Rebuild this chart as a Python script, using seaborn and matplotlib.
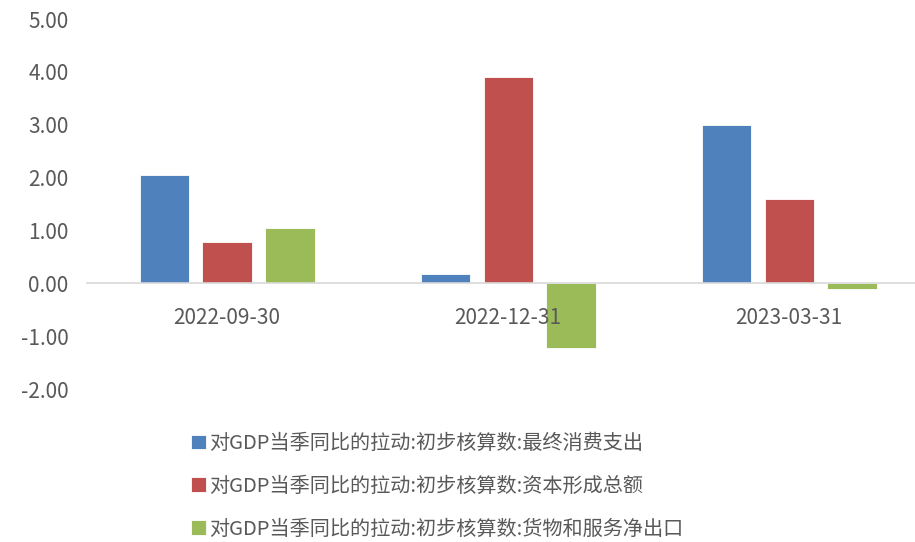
import matplotlib
matplotlib.use("Agg")
import matplotlib.pyplot as plt
import seaborn as sns
import pandas as pd

dates = ["2022-09-30", "2022-12-31", "2023-03-31"]
series_names = [
    "对GDP当季同比的拉动:初步核算数:最终消费支出",
    "对GDP当季同比的拉动:初步核算数:资本形成总额",
    "对GDP当季同比的拉动:初步核算数:货物和服务净出口",
]
consumption = [2.05, 0.18, 2.99]
capital = [0.78, 3.91, 1.59]
net_export = [1.04, -1.22, -0.11]
y_ticks = [-2, -1, 0, 1, 2, 3, 4, 5]
colors = ["#4F81BD", "#C0504D", "#9BBB59"]

sns.set_theme(style="white")
plt.rcParams["font.family"] = ["Noto Sans CJK SC", "DejaVu Sans"]

rows = []
for name, vals in zip(series_names, [consumption, capital, net_export]):
    for d, v in zip(dates, vals):
        rows.append({"date": d, "series": name, "value": v})
df = pd.DataFrame(rows)

fig = plt.figure(figsize=(9.15, 5.42), dpi=100)
ax = fig.add_axes([86.5 / 915, 1 - 389 / 542, 1 - 86.5 / 915, (389 - 19) / 542])

sns.barplot(data=df, x="date", y="value", hue="series", order=dates,
            hue_order=series_names, palette=colors, saturation=1,
            width=0.672, gap=0.22,
            edgecolor="white", linewidth=0.6, ax=ax, legend=True)

ax.set_ylim(-2, 5)
ax.set_xlim(-0.5, 2.448)
ax.set_yticks(y_ticks)
ax.set_yticklabels([f"{t:.2f}" for t in y_ticks])
ax.set_xlabel("")
ax.set_ylabel("")
for s in ["top", "right", "left"]:
    ax.spines[s].set_visible(False)
ax.spines["bottom"].set_position(("data", 0))
ax.spines["bottom"].set_color("#D9D9D9")
ax.spines["bottom"].set_linewidth(1.2)
ax.xaxis.set_zorder(10)
ax.tick_params(axis="x", length=0, pad=17, labelsize=15, labelcolor="#595959")
ax.tick_params(axis="y", length=0, pad=13, labelsize=15, labelcolor="#595959")

handles, labels = ax.get_legend_handles_labels()
ax.get_legend().remove()
leg = fig.legend(handles, labels, loc="upper left", bbox_to_anchor=(191 / 915, 1 - 433 / 542),
                 frameon=False, fontsize=14.5, labelcolor="#595959",
                 handlelength=0.75, handleheight=0.75, handletextpad=0.15,
                 labelspacing=1.08, borderpad=0, borderaxespad=0)

fig.savefig("out.png", dpi=100)
